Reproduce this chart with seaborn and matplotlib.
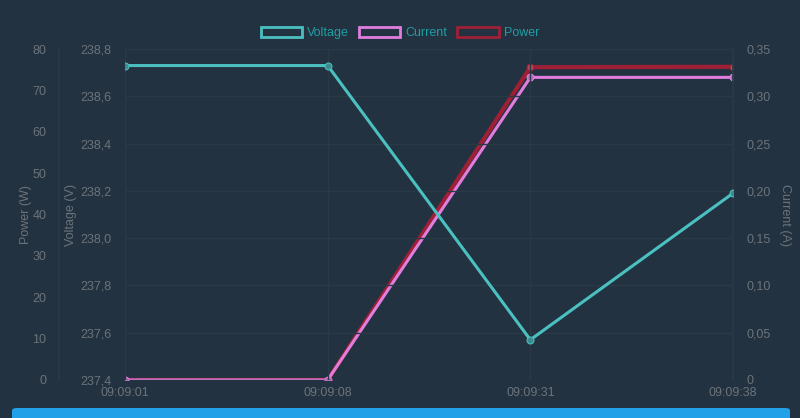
import pandas as pd
import matplotlib.pyplot as plt
import seaborn as sns
from matplotlib.patches import Patch, FancyBboxPatch

times = ["09:09:01", "09:09:08", "09:09:31", "09:09:38"]
voltage = [238.73, 238.73, 237.57, 238.19]
current = [0.0, 0.0, 0.32, 0.32]
power = [0.0, 0.0, 75.6, 75.7]

volt_ticks = [237.4, 237.6, 237.8, 238.0, 238.2, 238.4, 238.6, 238.8]
curr_ticks = [0, 0.05, 0.10, 0.15, 0.20, 0.25, 0.30, 0.35]
pow_ticks = [0, 10, 20, 30, 40, 50, 60, 70, 80]

bg = "#233240"
grid_c = "#2a3946"
txt = "#6b737a"
c_volt = "#4bc0c0"
c_curr = "#e07ee0"
c_pow = "#9e1f36"

df = pd.DataFrame({"time": times, "voltage": voltage, "current": current, "power": power})
df["idx"] = range(len(df))

sns.set_theme(style="dark")
plt.rcParams["font.family"] = ["Liberation Sans", "DejaVu Sans"]

fig = plt.figure(figsize=(8, 4.18), dpi=100, facecolor=bg)
ax = fig.add_axes([125 / 800, 1 - 380 / 418, 608 / 800, 331 / 418])
ax_c = ax.twinx()
ax_p = ax.twinx()

def comma(v, nd):
    s = f"{v:.{nd}f}".replace(".", ",")
    return "0" if v == 0 else s

# power (left outer axis)
sns.lineplot(data=df, x="idx", y="power", ax=ax_p, color=c_pow, linewidth=3,
             marker="o", markersize=5, markerfacecolor="#b04a5c", markeredgecolor=c_pow)
ax_p.set_ylim(0, 80)
ax_p.set_yticks(pow_ticks)
ax_p.set_yticklabels([str(t) for t in pow_ticks])
ax_p.yaxis.tick_left()
ax_p.yaxis.set_label_position("left")
ax_p.spines["left"].set_position(("axes", -66 / 608))
ax_p.set_ylabel("Power (W)", color=txt, fontsize=9, labelpad=0)

# current (right axis)
sns.lineplot(data=df, x="idx", y="current", ax=ax_c, color=c_curr, linewidth=2.2,
             marker="o", markersize=5, markerfacecolor="#b36fba", markeredgecolor=c_curr)
ax_c.set_ylim(0, 0.35)
ax_c.set_yticks(curr_ticks)
ax_c.set_yticklabels([comma(t, 2) for t in curr_ticks])
ax_c.set_ylabel("Current (A)", color=txt, fontsize=9, rotation=270, labelpad=14)

# voltage (left inner axis)
sns.lineplot(data=df, x="idx", y="voltage", ax=ax, color=c_volt, linewidth=2.2,
             marker="o", markersize=5, markerfacecolor="#3a8c90", markeredgecolor=c_volt)
ax.set_ylim(237.4, 238.8)
ax.set_yticks(volt_ticks)
ax.set_yticklabels([comma(t, 1) for t in volt_ticks])
ax.set_ylabel("Voltage (V)", color=txt, fontsize=9, labelpad=2)
ax.set_xlim(0, 3)
ax.set_xticks(df["idx"])
ax.set_xticklabels(times)
ax.set_xlabel("")

# voltage on top, then current, power at the bottom
ax.set_zorder(3)
ax_c.set_zorder(2)
ax_p.set_zorder(1)
ax.patch.set_visible(False)
ax_c.patch.set_visible(False)
ax_p.patch.set_visible(True)
ax_p.patch.set_facecolor(bg)

for a in (ax, ax_c, ax_p):
    a.tick_params(colors=txt, labelsize=9, length=0, pad=10)
    for s in a.spines.values():
        s.set_visible(False)
    a.grid(False)
ax.grid(True, color=grid_c, linewidth=1)
ax.tick_params(axis="x", pad=5)
ax_p.tick_params(axis="y", pad=9)
ax_p.spines["left"].set_visible(True)
ax_p.spines["left"].set_color(grid_c)
ax_c.spines["right"].set_visible(True)
ax_c.spines["right"].set_color(grid_c)

handles = [Patch(facecolor=bg, edgecolor=c, linewidth=2, label=l)
           for c, l in [(c_volt, "Voltage"), (c_curr, "Current"), (c_pow, "Power")]]
leg = fig.legend(handles=handles, loc="center", bbox_to_anchor=(0.5, 1 - 33 / 418), ncol=3,
                 frameon=False, fontsize=9, handlelength=3.3, handleheight=0.9,
                 columnspacing=0.8, handletextpad=0.4)
for t in leg.get_texts():
    t.set_color("#1f9ea3")

fig.patches.append(FancyBboxPatch((12 / 800, -0.05), 778 / 800, 0.05 + 10 / 418,
                                  boxstyle="round,pad=0,rounding_size=0.006",
                                  transform=fig.transFigure, facecolor="#22a0e8",
                                  edgecolor="none", figure=fig))

fig.savefig("out.png", dpi=100, facecolor=bg)
